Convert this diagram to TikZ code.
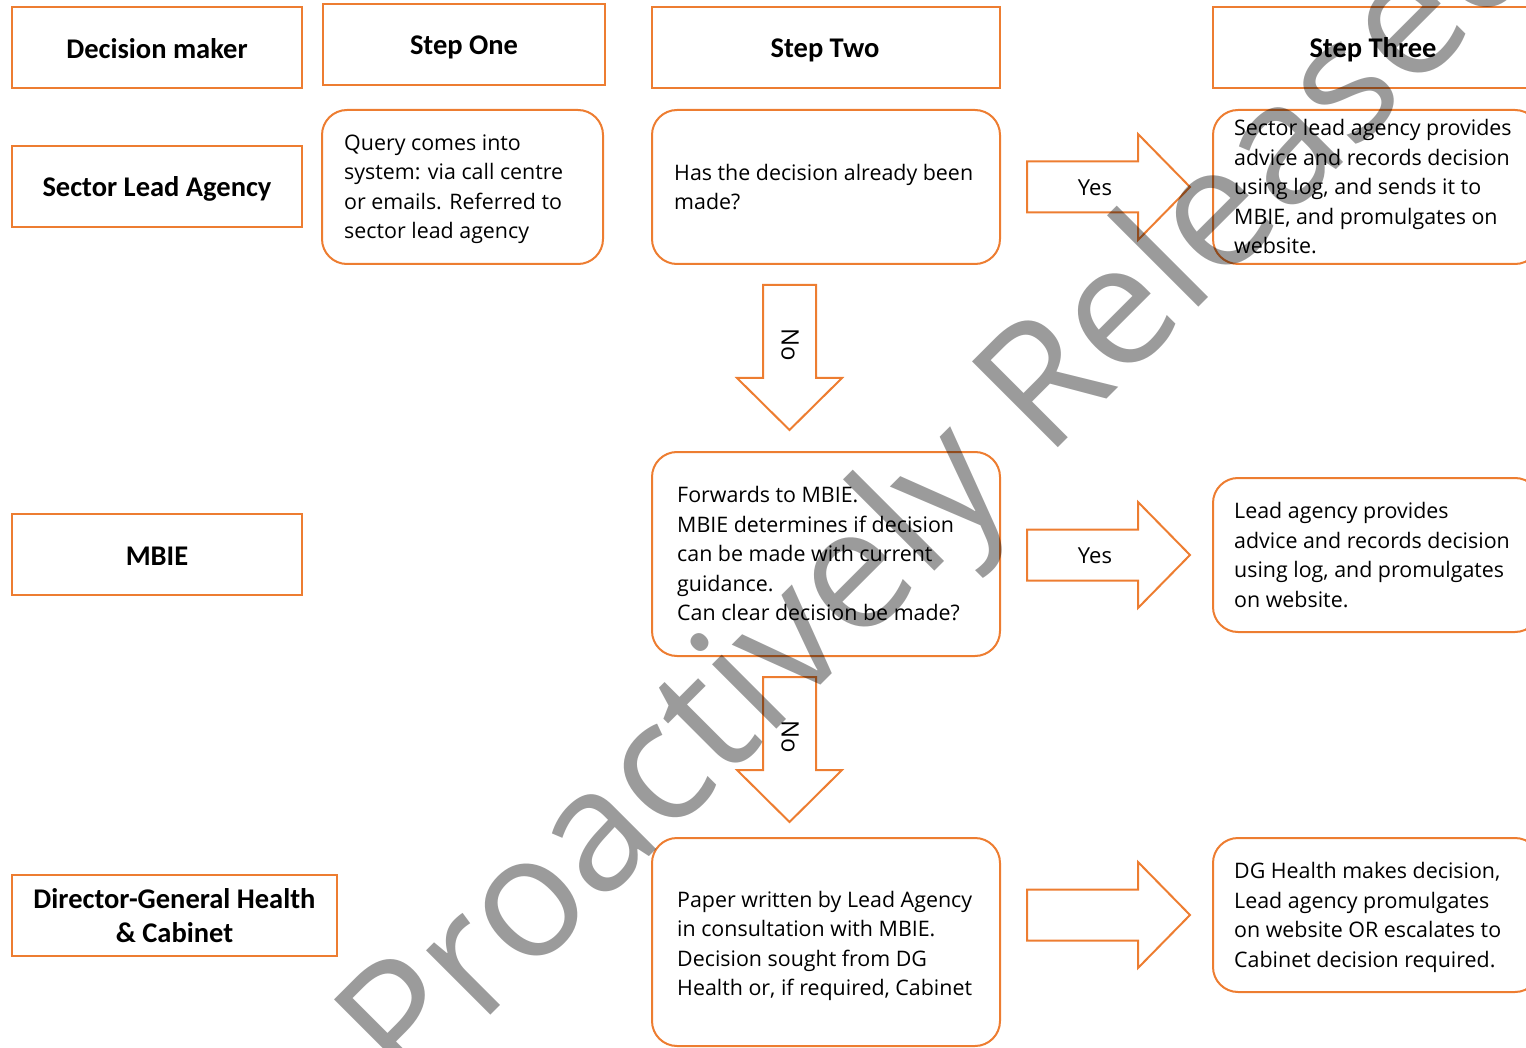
\documentclass[tikz,border=0pt]{standalone}
\usepackage{fontspec}
\setmainfont{Open Sans}
\newfontfamily\hdfont{Carlito}
\newfontfamily\wmfont{Open Sans}
\definecolor{org}{HTML}{ED7D31}
\definecolor{wm}{HTML}{9B9B9B}
\begin{document}
\begin{tikzpicture}[x=1pt,y=-1pt,
  hdr/.style={draw=org, line width=2pt, rectangle, inner sep=0pt, align=center,
    font=\hdfont\bfseries\fontsize{28.5}{34}\selectfont},
  rbox/.style={draw=org, line width=2pt, rectangle, rounded corners=25pt, inner sep=0pt},
  body/.style={font=\fontsize{21.4}{29.5}\selectfont, align=left, anchor=west, inner sep=0pt},
  lbl/.style={font=\fontsize{22}{26}\selectfont, inner sep=0pt},
  barrow/.style={draw=org, line width=2pt, line join=miter}]
\useasboundingbox (0,0) rectangle (1526,1048);
\clip (0,0) rectangle (1526,1048);

% header boxes
\node[hdr, minimum width=290pt, minimum height=81pt] (dm) at (157,47.5) {};
\node[hdr, draw=none] (dmt) at (157,49) {Decision maker};
\node[hdr, minimum width=282pt, minimum height=81pt] (s1) at (464,44.5) {};
\node[hdr, draw=none] (s1t) at (464,47) {Step One};
\node[hdr, minimum width=348pt, minimum height=81pt] (s2) at (826,47.5) {};
\node[hdr, draw=none] (s2t) at (825,50) {Step Two};
\node[hdr, minimum width=327pt, minimum height=81pt] (s3) at (1376.5,47.5) {};
\node[hdr, draw=none] (s3t) at (1373,50) {Step Three};

% left column
\node[hdr, minimum width=290pt, minimum height=81pt] (sla) at (157,186.5) {};
\node[hdr, draw=none] (slat) at (157,189) {Sector Lead Agency};
\node[hdr, minimum width=290pt, minimum height=81pt] (mbie) at (157,554.5) {};
\node[hdr, draw=none] (mbiet) at (157,556) {MBIE};
\node[hdr, minimum width=325pt, minimum height=81pt] (dg) at (174.5,915.5) {};
\node[hdr, draw=none] (dgt) at (174.5,916) {Director-General Health\\ \& Cabinet};

% rounded boxes
\node[rbox, minimum width=281pt, minimum height=154pt] (q) at (462.5,187) {};
\node[body] (qt) at ([xshift=23pt,yshift=-2pt]q.west) {Query comes into\\system: via call centre\\or emails. Referred to\\sector lead agency};

\node[rbox, minimum width=348pt, minimum height=154pt] (hd) at (826,187) {};
\node[body] (hdt) at ([xshift=23pt]hd.west) {Has the decision already been\\made?};

\node[rbox, minimum width=327pt, minimum height=154pt] (sp) at (1376.5,187) {};
\node[body] (spt) at ([xshift=22pt]sp.west) {Sector lead agency provides\\advice and records decision\\using log, and sends it to\\MBIE, and promulgates on\\website.};

\node[rbox, minimum width=348pt, minimum height=204pt] (fw) at (826,554) {};
\node[body] (fwt) at ([xshift=26pt]fw.west) {Forwards to MBIE.\\MBIE determines if decision\\can be made with current\\guidance.\\Can clear decision be made?};

\node[rbox, minimum width=327pt, minimum height=154pt] (la) at (1376.5,555) {};
\node[body] (lat) at ([xshift=22pt]la.west) {Lead agency provides\\advice and records decision\\using log, and promulgates\\on website.};

\node[rbox, minimum width=348pt, minimum height=208pt] (pw) at (826,942) {};
\node[body] (pwt) at ([xshift=26pt,yshift=-4pt]pw.west) {Paper written by Lead Agency\\in consultation with MBIE.\\Decision sought from DG\\Health or, if required, Cabinet};

\node[rbox, minimum width=327pt, minimum height=154pt] (dgh) at (1376.5,915) {};
\node[body] (dght) at ([xshift=22pt,yshift=-2.5pt]dgh.west) {DG Health makes decision,\\Lead agency promulgates\\on website OR escalates to\\Cabinet decision required.};

% block arrows right
\foreach \yc in {187,555,915}{
  \draw[barrow] (1027,\yc-25.5) -- (1138,\yc-25.5) -- (1138,\yc-53) -- (1190,\yc)
    -- (1138,\yc+53) -- (1138,\yc+25.5) -- (1027,\yc+25.5) -- cycle;
}
\node[lbl] (yes1) at (1095,188) {Yes};
\node[lbl] (yes2) at (1095,556) {Yes};

% block arrows down
\foreach \yt in {285,677}{
  \draw[barrow] (763,\yt) -- (816,\yt) -- (816,\yt+93) -- (842,\yt+93) -- (789.5,\yt+145)
    -- (737,\yt+93) -- (763,\yt+93) -- cycle;
}
\node[lbl, rotate=-90, font=\fontsize{24}{28}\selectfont] (no1) at (790,345) {No};
\node[lbl, rotate=-90, font=\fontsize{24}{28}\selectfont] (no2) at (790,737) {No};

% watermark
\begin{scope}[blend mode=multiply]
\node[rotate=45, anchor=base west, inner sep=0pt, text=wm,
  font=\wmfont\fontsize{170}{170}\selectfont] (wmk) at (408,1098) {Proactively Released};
\end{scope}
\end{tikzpicture}
\end{document}
